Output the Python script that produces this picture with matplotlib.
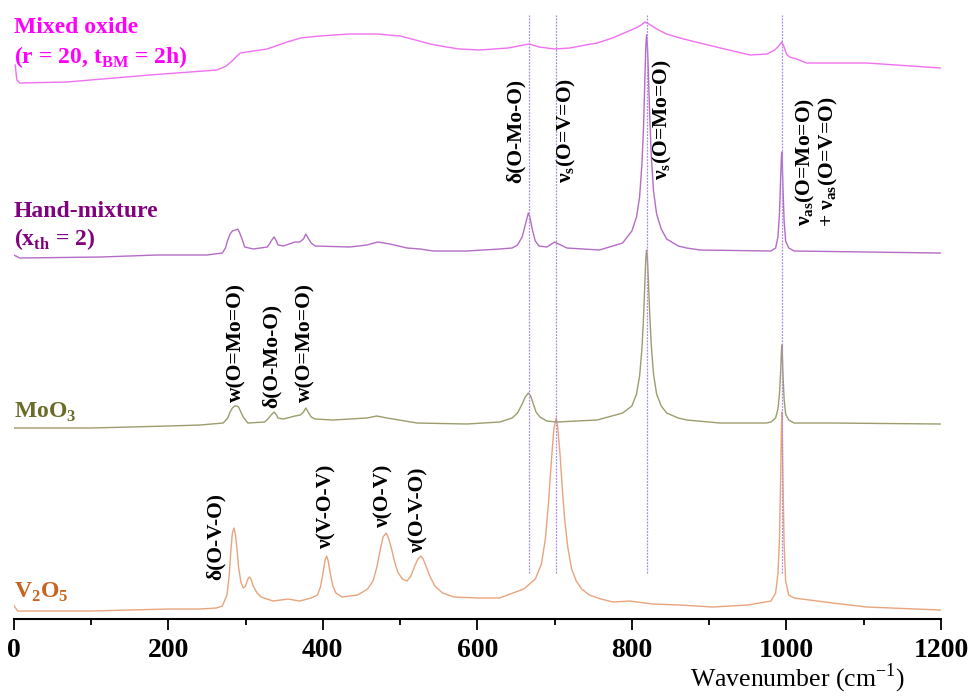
import matplotlib
matplotlib.use("Agg")
import matplotlib.pyplot as plt
from matplotlib.ticker import MultipleLocator

plt.rcParams['font.family'] = ['Liberation Serif', 'DejaVu Serif']

# Raman spectra (wavenumber in cm-1, intensity in arb. units)
v2o5_x = [0, 5, 100, 200, 241, 262, 270, 276, 279, 281, 283, 285, 287, 289, 291, 294, 297, 300,
          303, 305, 307, 310, 315, 320, 336, 355, 370, 385, 393, 397, 400, 403, 405, 407, 410,
          413, 417, 425, 445, 458, 465, 470, 474, 478, 482, 485, 489, 493, 497, 503, 509, 514,
          519, 523, 527, 530, 534, 539, 545, 555, 570, 603, 629, 646, 660, 675, 683, 688, 692,
          696, 699, 702, 704, 707, 710, 713, 717, 722, 728, 735, 745, 760, 776, 797, 827, 862,
          905, 950, 980, 986, 989, 991, 992.5, 993.5, 994, 994.5, 995.5, 997, 999, 1003, 1010,
          1030, 1060, 1104, 1199]
v2o5_y = [14, 8, 8, 10, 10, 11, 13, 24, 45, 68, 86, 91, 84, 70, 52, 37, 31, 33,
          40, 42, 40, 33, 26, 22, 18, 20, 18, 21, 24, 32, 45, 59, 63, 58, 44,
          33, 26, 22, 24, 30, 38, 52, 68, 82, 86, 81, 70, 57, 47, 40, 38, 43,
          53, 60, 63, 60, 52, 42, 33, 26, 22, 21, 21, 26, 30, 40, 55, 80, 115,
          160, 190, 201, 192, 165, 130, 100, 72, 50, 38, 30, 24, 20, 17, 18, 15, 14,
          12, 14, 18, 26, 45, 80, 140, 190, 207, 195, 140, 75, 38, 24, 21,
          19, 16, 12, 9]

moo3_x = [0, 100, 200, 241, 271, 277, 280, 283, 286, 289, 291, 294, 297, 303, 325, 330, 333,
          337, 340, 342, 349, 364, 371, 375, 378, 381, 385, 390, 413, 457, 470, 483, 522, 586,
          629, 645, 652, 658, 662, 666, 669, 672, 676, 681, 690, 703, 755, 788, 800, 806, 810,
          813, 815, 817, 818, 819, 820, 821, 823, 825, 828, 832, 838, 845, 860, 871, 914, 974,
          980, 986, 989, 991, 992.5, 993.5, 994, 994.5, 995.5, 997, 999, 1003, 1010, 1060, 1199]
moo3_y = [6, 6, 8, 9, 11, 16, 22, 26, 28, 28, 27, 22, 17, 11, 12, 16, 19,
          22, 19, 16, 15, 18, 19, 22, 26, 22, 17, 15, 14, 16, 18, 16, 11, 10,
          12, 16, 21, 30, 37, 41, 38, 31, 22, 17, 13, 12, 14, 21, 28, 40, 58,
          85, 115, 155, 175, 184, 176, 160, 122, 90, 60, 40, 28, 21, 16, 14, 11, 11,
          12, 16, 25, 40, 62, 82, 89, 84, 60, 35, 20, 14, 11, 11, 10]

hand_x = [0, 8, 113, 185, 250, 270, 274, 277, 280, 283, 287, 290, 292, 295, 299, 310, 328, 331,
          334, 337, 340, 342, 349, 364, 370, 375, 378, 381, 385, 390, 435, 457, 471, 487, 509,
          526, 543, 586, 629, 645, 652, 658, 662, 666, 668, 671, 675, 680, 690, 700, 716, 758,
          788, 800, 806, 810, 813, 815, 817, 818, 819, 820, 821, 823, 825, 828, 832, 838, 845,
          860, 871, 888, 980, 986, 989, 991, 992.5, 993.5, 994, 994.5, 995.5, 997, 999, 1003,
          1010, 1199]
hand_y = [4, 1, 2, 4, 4, 6, 11, 19, 25, 28, 29, 30, 27, 21, 12, 10, 12, 15,
          19, 22, 18, 14, 13, 17, 17, 20, 25, 21, 16, 13, 12, 14, 17, 15, 11,
          10, 8, 8, 10, 11, 14, 22, 34, 46, 42, 30, 18, 13, 12, 17, 11, 9,
          16, 28, 42, 62, 95, 130, 185, 212, 224, 214, 195, 145, 105, 68, 45, 30, 20,
          13, 11, 9, 8, 11, 22, 45, 80, 102, 107, 100, 72, 38, 18, 11,
          8, 6]

mixed_x = [2, 4, 8, 69, 176, 263, 275, 284, 293, 310, 328, 350, 371, 396, 435, 470, 500, 520,
           539, 560, 577, 603, 640, 660, 667, 680, 700, 720, 740, 755, 775, 790, 805, 812, 817,
           822, 832, 845, 862, 888, 920, 953, 975, 985, 990, 994, 997, 1000, 1004, 1013, 1026,
           1104, 1199]
mixed_y = [19, 4, 1, 2, 9, 14, 18, 24, 31, 33, 35, 41, 46, 48, 50, 50, 48, 44,
           40, 37, 35, 34, 36, 39, 40, 37, 35, 36, 39, 41, 46, 51, 56, 59, 62,
           60, 55, 50, 46, 41, 35, 29, 30, 34, 38, 42, 37, 30, 27, 25, 21,
           21, 16]

# vertical offsets of the stacked spectra
offsets = [0, 185, 360, 535]

band_positions = [667, 702, 819, 994]

v2o5_bands = [(262, 39, 'δ(O-V-O)'), (405, 71, 'ν(V-O-V)'),
              (479, 92, 'ν(O-V)'), (524, 67, 'ν(O-V-O)')]
moo3_bands = [(288, 217, 'w(O=Mo=O)'), (334, 211, 'δ(O-Mo-O)'), (378, 217, 'w(O=Mo=O)')]
top_bands = [(650, 436, 'δ(O-Mo-O)'),
             (716, 436, r'ν$_\mathregular{s}$(O=V=O)'),
             (839, 439, r'ν$_\mathregular{s}$(O=Mo=O)'),
             (1039, 392, 'ν$_\\mathregular{as}$(O=Mo=O)\n+ ν$_\\mathregular{as}$(O=V=O)')]

fig = plt.figure(figsize=(9.73, 6.96), dpi=100)
ax = fig.add_axes([0.01408, 0.1106, 0.9530, 0.8894])

ax.plot(v2o5_x, [v + offsets[0] for v in v2o5_y], color='#E8A47C', lw=1.0)
ax.plot(moo3_x, [v + offsets[1] for v in moo3_y], color='#9C9C6E', lw=1.0)
ax.plot(hand_x, [v + offsets[2] for v in hand_y], color='#B46CC6', lw=1.0)
ax.plot(mixed_x, [v + offsets[3] for v in mixed_y], color='#F070F0', lw=1.0)

for b in band_positions:
    ax.plot([b, b], [46, 604], color='#A98BE6', lw=0.9, ls=(0, (1.5, 1)))

# sample names
lab = dict(fontsize=17, fontweight='bold', ha='left', va='baseline', clip_on=False)
ax.text(0.5, 586, 'Mixed oxide', color='#FF00FF', **lab)
ax.text(0.5, 556, r'(r = 20, t$_\mathregular{BM}$ = 2h)', color='#FF00FF', **lab)
ax.text(0.5, 402, 'Hand-mixture', color='#800080', **lab)
ax.text(0.5, 374, r'(x$_\mathregular{th}$ = 2)', color='#800080', **lab)
ax.text(0.5, 201, r'MoO$_\mathregular{3}$', color='#6B6B2A', **lab)
ax.text(0.5, 21, r'V$_\mathregular{2}$O$_\mathregular{5}$', color='#C8641E', **lab)

# band assignments
for x, y, s in v2o5_bands + moo3_bands + top_bands:
    ax.text(x, y, s, rotation=90, ha='center', va='bottom', fontsize=15.5,
            fontweight='bold', multialignment='center', linespacing=1.0)

ax.set_xlim(0, 1200)
ax.set_ylim(0, 619)
for side in ['top', 'left', 'right']:
    ax.spines[side].set_visible(False)
ax.spines['bottom'].set_linewidth(1.5)
ax.set_yticks([])
ax.xaxis.set_major_locator(MultipleLocator(200))
ax.xaxis.set_minor_locator(MultipleLocator(100))
ax.tick_params(axis='x', which='major', direction='out', length=8, width=1.3,
               labelsize=20, pad=6)
ax.tick_params(axis='x', which='minor', direction='out', length=4, width=1.3)
for t in ax.get_xticklabels():
    t.set_fontweight('bold')

fig.text(905 / 973, 1 / 696, r'Wavenumber (cm$^\mathregular{-1}$)', ha='right', va='bottom',
         fontsize=18.5)

fig.savefig('out.png', dpi=100)
